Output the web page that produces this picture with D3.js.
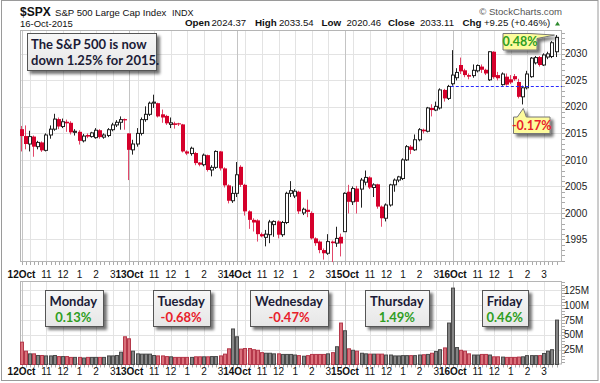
<!DOCTYPE html>
<html><head><meta charset="utf-8">
<script src="https://cdn.jsdelivr.net/npm/d3@7"></script>
<style>body{margin:0;background:#fff}svg{display:block}</style>
</head><body><svg id="c" width="600" height="383"></svg>
<script>
// ---------------- DATA ----------------
const days = ["12Oct","13Oct","14Oct","15Oct","16Oct"];
const barsPerDay = 26;
const hourLabels = [{bar:6,t:"11"},{bar:10,t:"12"},{bar:14,t:"1"},{bar:18,t:"2"},{bar:22,t:"3"}];
const gridBars = [0,2,6,10,14,18,22];
const priceTicks = [1995,2000,2005,2010,2015,2020,2025,2030];
const volTicks = [25,50,75,100,125];
const dayNames = ["Monday","Tuesday","Wednesday","Thursday","Friday"];
const dayChanges = [0.13,-0.68,-0.47,1.49,0.46];
const prevClose = 2023.86;

const openP = [
2015.8,2014.5,2013.0,2014.4,2012.5,2013.3,2011.8,2014.7,2015.8,2017.7,2016.3,2017.2,2017.0,2015.2,2015.3,2013.6,2014.7,2014.4,2014.2,2015.6,2014.3,2014.6,2015.7,2016.6,2017.1,2017.7,
2015.0,2011.9,2013.0,2015.0,2017.6,2018.6,2020.7,2020.7,2018.6,2018.3,2016.7,2016.9,2016.9,2016.7,2011.6,2011.2,2011.3,2009.5,2009.1,2010.9,2008.1,2008.6,2011.6,2008.4,2005.2,2002.3,
2003.7,2008.7,2005.3,2000.3,1998.7,1998.6,1996.0,1995.4,1995.9,1997.8,1998.4,1995.9,1998.2,2003.7,2003.2,2004.0,2000.0,2000.6,2000.0,1995.2,1994.6,1993.0,1992.4,1994.6,1994.3,1995.5,
1996.47,2004.0,2002.1,2004.6,2004.5,2005.8,2006.7,2004.8,2005.4,2001.2,1999.0,2001.5,2005.3,2006.2,2006.5,2010.0,2012.5,2011.9,2013.8,2015.7,2015.4,2019.8,2019.4,2019.8,2023.2,2021.6,
2024.37,2025.5,2027.9,2026.9,2026.0,2025.9,2026.8,2027.6,2027.0,2025.1,2030.4,2026.0,2024.2,2025.7,2025.2,2025.8,2024.7,2021.9,2023.6,2025.7,2028.3,2029.4,2027.9,2029.4,2029.5,2030.4];
const highP = [
2016.4,2016.5,2015.5,2014.6,2013.6,2013.5,2015.0,2016.5,2018.7,2018.0,2017.8,2017.6,2017.3,2015.8,2015.6,2014.9,2015.0,2015.3,2016.0,2015.8,2015.0,2016.0,2017.0,2017.5,2018.2,2017.8,
2015.0,2013.8,2016.0,2018.0,2020.1,2021.0,2022.3,2020.8,2019.5,2018.5,2018.0,2017.2,2017.0,2016.8,2011.8,2012.5,2011.5,2009.6,2011.2,2011.0,2009.0,2011.8,2011.7,2008.6,2005.4,2005.0,
2009.6,2009.0,2005.5,2000.5,1999.0,1998.8,1996.3,1996.8,1998.7,1998.6,1998.6,1998.5,2004.0,2006.0,2004.5,2004.2,2001.0,2002.5,2000.3,1995.4,1994.8,1993.3,1996.0,1994.8,1997.4,1996.1,
2003.9,2005.3,2005.0,2005.1,2006.6,2008.0,2006.9,2005.6,2005.5,2001.4,2001.8,2005.5,2006.5,2007.0,2010.3,2012.8,2012.8,2014.8,2016.0,2015.9,2020.0,2020.5,2021.0,2023.5,2023.4,2024.15,
2030.7,2027.3,2029.3,2027.2,2026.3,2028.0,2028.0,2028.0,2027.2,2030.5,2030.5,2026.6,2026.5,2026.3,2026.0,2026.2,2025.3,2024.0,2026.8,2029.4,2029.6,2029.6,2030.1,2030.4,2032.4,2033.54];
const lowP = [
2011.6,2012.0,2011.6,2010.6,2012.0,2011.5,2011.6,2014.0,2015.5,2015.8,2016.0,2015.3,2014.8,2014.6,2012.9,2013.3,2014.1,2014.2,2014.0,2014.0,2014.0,2014.3,2015.4,2016.2,2015.7,2015.7,
2006.2,2011.0,2012.5,2014.6,2017.2,2018.3,2019.8,2018.0,2017.0,2016.6,2016.0,2015.9,2016.4,2011.4,2010.9,2010.8,2009.0,2008.8,2008.8,2007.8,2006.9,2008.3,2008.0,2004.8,2001.8,2001.9,
2003.0,2004.9,1999.5,1997.0,1996.5,1994.6,1995.4,1993.7,1994.3,1995.5,1995.2,1995.5,1997.9,2003.0,2002.8,1999.8,1999.6,1999.2,1995.0,1993.8,1992.4,1991.2,1992.1,1990.73,1993.6,1991.8,
1996.47,1999.9,2001.5,1999.9,2001.0,2005.2,2004.5,2003.0,2000.8,1997.4,1998.4,2001.2,2004.0,2005.8,2006.2,2009.8,2011.1,2011.7,2013.5,2015.0,2015.2,2018.2,2019.2,2019.5,2021.0,2021.3,
2024.0,2025.0,2026.2,2025.6,2025.2,2025.5,2026.5,2026.4,2026.0,2024.9,2025.3,2025.0,2024.0,2024.0,2024.3,2024.9,2021.6,2020.46,2023.3,2025.5,2028.0,2027.6,2027.7,2029.0,2029.2,2029.4];
const closeP = [
2014.5,2013.0,2014.4,2012.5,2013.3,2011.8,2014.7,2015.8,2017.7,2016.3,2017.2,2016.9,2015.2,2015.4,2013.6,2014.5,2014.4,2015.1,2015.6,2014.3,2014.7,2015.7,2016.6,2017.1,2017.6,2017.46,
2011.9,2013.0,2015.0,2017.6,2018.6,2020.7,2020.9,2018.2,2018.0,2016.9,2017.0,2016.6,2016.7,2011.6,2011.2,2012.2,2009.4,2009.1,2010.9,2008.1,2008.6,2011.6,2008.4,2005.2,2002.3,2003.69,
2007.2,2005.3,2000.3,1998.7,1998.2,1996.0,1995.6,1996.0,1998.3,1998.4,1995.9,1998.2,2003.7,2004.2,2004.1,2000.3,2000.7,2000.2,1995.2,1994.3,1993.0,1992.4,1994.6,1994.3,1995.2,1994.24,
2003.7,2002.1,2004.6,2002.1,2006.2,2006.7,2004.8,2005.3,2001.2,1999.0,2001.5,2005.3,2006.2,2006.8,2010.0,2012.5,2011.9,2013.8,2015.7,2015.4,2019.8,2019.4,2020.1,2023.2,2021.6,2023.86,
2026.0,2026.5,2026.7,2026.0,2025.7,2026.9,2027.8,2027.0,2026.3,2030.4,2025.6,2025.4,2026.2,2024.2,2024.6,2025.2,2021.9,2023.6,2026.2,2029.2,2029.3,2027.9,2029.8,2030.0,2032.1,2033.11];
const volume = [
37.7,22.5,18,18,15.2,15.2,14.5,14.5,15.2,13.4,13.4,13.4,12,12,12,11,12,12,12,12,12,14.5,14.5,15.2,20.8,46.8,
43.4,22.5,18,17.5,17.5,17.5,15.2,14.5,14.5,13.4,13,12,12,12,12,12,13,13,13,13,13.4,13.4,14.5,17.5,26.5,60,
46.8,26,27,27,25,24,20,19,19,18,18,17,17,17,16,15,14,15,17,17,17,17,18,20,30,70,
57,26.5,24,22.5,19,18,17.5,17.5,17.5,17.5,16,16,14.5,14.5,15,15,15,15,16,16.5,17,19,22,25,28,70,
129,28.6,24,22.5,18,16,16,17,17,16,13,13,12.5,12,12,12,12.5,13,15,15,15,15,18.6,22.5,25,75];

// ---------------- LAYOUT ----------------
const svg = d3.select("#c");
const L = 20, R = 562, mTop = 30, mBot = 262, vTop = 281, vBot = 364.5;
const n = openP.length;
const x = d3.scaleLinear().domain([0, n-1]).range([21.5, 556.5]);
const y = d3.scaleLinear().domain([1990.75, 2034.5]).range([mBot, mTop]);
const yv = d3.scaleLinear().domain([0, 141]).range([vBot, vTop]);
const bars = d3.range(n).map(i => ({i, o:openP[i], h:highP[i], l:lowP[i], c:closeP[i], v:volume[i], down: closeP[i] < openP[i]}));
const AX = "'Liberation Sans', Arial, sans-serif";
const CAL = "Lato, 'Open Sans', sans-serif";

const defs = svg.append("defs");
const f = defs.append("filter").attr("id","sh").attr("x","-20%").attr("y","-20%").attr("width","150%").attr("height","160%");
f.append("feGaussianBlur").attr("in","SourceAlpha").attr("stdDeviation",1.4);
f.append("feOffset").attr("dx",2.5).attr("dy",2.5).attr("result","ob");
f.append("feComponentTransfer").append("feFuncA").attr("type","linear").attr("slope",0.55);
const fm = f.append("feMerge"); fm.append("feMergeNode"); fm.append("feMergeNode").attr("in","SourceGraphic");
const gr = defs.append("linearGradient").attr("id","gbox").attr("x1",0).attr("y1",0).attr("x2",0).attr("y2",1);
gr.append("stop").attr("offset","0%").attr("stop-color","#f7f7f7");
gr.append("stop").attr("offset","100%").attr("stop-color","#e6e6e6");

svg.append("rect").attr("x",1.5).attr("y",0.5).attr("width",596.5).attr("height",380).attr("fill","none").attr("stroke","#9a9a9a");

// ---------------- HEADER ----------------
svg.append("text").attr("x",20).attr("y",15.5).attr("font-family",AX).attr("font-weight","bold").attr("font-size",12).attr("fill","#111").text("$SPX");
svg.append("text").attr("x",55).attr("y",15.5).attr("font-family",AX).attr("font-size",9.6).attr("fill","#111").text("S&P 500 Large Cap Index");
svg.append("text").attr("x",172).attr("y",15.5).attr("font-family",AX).attr("font-size",9).attr("fill","#111").text("INDX");
svg.append("text").attr("x",20).attr("y",27).attr("font-family",AX).attr("font-size",9.5).attr("fill","#111").text("16-Oct-2015");
svg.append("text").attr("x",562).attr("y",15).attr("text-anchor","end").attr("font-family",AX).attr("font-size",9.6).attr("fill","#555").text("\u00A9 StockCharts.com");
const hdr = [
  {x:185,t:"Open",b:true},{x:211.5,t:"2024.37"},{x:255,t:"High",b:true},{x:279,t:"2033.54"},
  {x:321.5,t:"Low",b:true},{x:346.5,t:"2020.46"},{x:388,t:"Close",b:true},{x:420,t:"2033.11"},
  {x:462.5,t:"Chg",b:true},{x:484,t:"+9.25 (+0.46%)"}];
svg.append("g").selectAll("text").data(hdr).join("text")
  .attr("x",d=>d.x).attr("y",26).attr("font-family",AX).attr("font-size",d=>d.b?9.8:9.6)
  .attr("font-weight",d=>d.b?"bold":"normal").attr("fill","#111").text(d=>d.t);
svg.append("path").attr("d","M555,25.5 L560,25.5 L557.5,21.5 Z").attr("fill","#2e8b2e");

// ---------------- GRID & FRAMES ----------------
function panelGrid(top, bot, hTicks, scale) {
  const g = svg.append("g");
  g.selectAll("line.h").data(hTicks).join("line")
    .attr("x1",L).attr("x2",R).attr("y1",d=>Math.round(scale(d))+0.5).attr("y2",d=>Math.round(scale(d))+0.5)
    .attr("stroke","#e3e3e3");
  const vs = [];
  days.forEach((d,k)=>gridBars.forEach(b=>vs.push({i:k*barsPerDay+b, major:b===0})));
  g.selectAll("line.v").data(vs).join("line")
    .attr("x1",d=>Math.round(x(d.i))+0.5).attr("x2",d=>Math.round(x(d.i))+0.5).attr("y1",top).attr("y2",bot)
    .attr("stroke",d=>d.major?"#c4c4c4":"#e3e3e3");
  g.selectAll("line.t").data(d3.range(n)).join("line")
    .attr("x1",d=>Math.round(x(d))+0.5).attr("x2",d=>Math.round(x(d))+0.5).attr("y1",bot).attr("y2",bot+3)
    .attr("stroke","#aaa");
  g.append("rect").attr("x",L+0.5).attr("y",top+0.5).attr("width",R-L-1).attr("height",bot-top-1)
    .attr("fill","none").attr("stroke","#b5b5b5");
}
panelGrid(mTop, mBot, priceTicks, y);
panelGrid(vTop, vBot, volTicks, yv);

svg.append("g").selectAll("line").data(d3.range(1991, 2035)).join("line")
  .attr("x1",R).attr("x2",R+3).attr("y1",d=>Math.round(y(d))+0.5).attr("y2",d=>Math.round(y(d))+0.5).attr("stroke","#aaa");
svg.append("g").selectAll("text").data(priceTicks).join("text")
  .attr("x",565).attr("y",d=>y(d)+3.6).attr("font-family",AX).attr("font-size",10).attr("fill","#222").text(d=>d);
svg.append("g").selectAll("line").data(d3.range(5,141,5)).join("line")
  .attr("x1",R).attr("x2",R+3).attr("y1",d=>Math.round(yv(d))+0.5).attr("y2",d=>Math.round(yv(d))+0.5).attr("stroke","#aaa");
svg.append("g").selectAll("text").data(volTicks).join("text")
  .attr("x",564).attr("y",d=>yv(d)+3.6).attr("font-family",AX).attr("font-size",10).attr("fill","#222").text(d=>d+"M");

const xl = [];
days.forEach((d,k)=>{ xl.push({i:k*barsPerDay, t:d, b:true}); hourLabels.forEach(h=>xl.push({i:k*barsPerDay+h.bar, t:h.t, b:false})); });
[277.5, 374.5].forEach(yy=>{
  svg.append("g").selectAll("text").data(xl).join("text")
    .attr("x",d=>x(d.i)).attr("y",yy).attr("text-anchor","middle").attr("font-family",AX)
    .attr("font-size",10).attr("font-weight",d=>d.b?"bold":"normal").attr("fill","#111").text(d=>d.t);
});

// ---------------- CANDLES ----------------
const cg = svg.append("g");
const cx = d => Math.round(x(d.i));
cg.selectAll("line").data(bars).join("line")
  .attr("x1",d=>cx(d)-0.5).attr("x2",d=>cx(d)-0.5).attr("y1",d=>y(d.h)).attr("y2",d=>y(d.l))
  .attr("stroke",d=>d.down?"#e2476a":"#222").attr("stroke-width",1);
cg.selectAll("rect").data(bars).join("rect")
  .attr("x",d=>d.down?cx(d)-2:cx(d)-1.5)
  .attr("width",d=>d.down?4:3)
  .attr("y",d=>y(Math.max(d.o,d.c)))
  .attr("height",d=>Math.max(1, Math.abs(y(d.o)-y(d.c))))
  .attr("fill",d=>d.down?"#d5002b":"#fff")
  .attr("stroke",d=>d.down?"none":"#222").attr("stroke-width",1);

svg.append("line").attr("x1",x(104)-2).attr("x2",R).attr("y1",Math.round(y(prevClose))+0.5).attr("y2",Math.round(y(prevClose))+0.5)
  .attr("stroke","#2a2aff").attr("stroke-width",1).attr("stroke-dasharray","3,2");

// ---------------- VOLUME ----------------
svg.append("g").selectAll("rect").data(bars).join("rect")
  .attr("x",d=>cx(d)-1.5).attr("width",3)
  .attr("y",d=>yv(d.v)).attr("height",d=>yv(0)-yv(d.v))
  .attr("fill",d=>d.down?"#d9707a":"#858585")
  .attr("stroke",d=>d.down?"#b4384a":"#4a4a4a").attr("stroke-width",1);

// ---------------- ANNOTATIONS ----------------
const mb = svg.append("g");
mb.append("rect").attr("x",27.5).attr("y",33.5).attr("width",129).attr("height",37).attr("fill","url(#gbox)").attr("stroke","#555").attr("filter","url(#sh)");
mb.append("text").attr("x",31).attr("y",48.5).attr("font-family",CAL).attr("font-weight","bold").attr("font-size",13).attr("fill","#1b1b36").text("The S&P 500 is now");
mb.append("text").attr("x",31).attr("y",65).attr("font-family",CAL).attr("font-weight","bold").attr("font-size",13).attr("fill","#1b1b36").text("down 1.25% for 2015.");

function callout(bx, by, bw, bh, path, txt, col) {
  const g = svg.append("g");
  g.append("path").attr("d",path).attr("fill","#fdfb9c").attr("stroke","#777").attr("filter","url(#sh)");
  g.append("text").attr("x",bx+bw/2).attr("y",by+bh/2+4.5).attr("text-anchor","middle").attr("font-family",CAL)
    .attr("font-weight","bold").attr("font-size",12.5).attr("fill",col).text(txt);
}
{
  const hx = x(129), hy = y(highP[129]);
  const bx=503, by=33.5, bw=34, bh=16.5;
  callout(bx,by,bw,bh,`M${bx},${by} H${bx+bw-7} L${hx-2},${hy} L${bx+bw},${by+5} V${by+bh} H${bx} Z`,"0.48%","#2f9e1f");
}
{
  const lx = x(121), ly = y(lowP[121]);
  const bx=513.5, by=117, bw=36.5, bh=16.5;
  callout(bx,by,bw,bh,`M${bx},${by} H${lx-6} L${lx},${ly+4} L${lx+3},${by} H${bx+bw} V${by+bh} H${bx} Z`,"-0.17%","#e8202a");
}

days.forEach((d,k)=>{
  const c = x(k*barsPerDay + 12.5);
  const g = svg.append("g");
  const r = g.append("rect").attr("y",290.5).attr("height",36).attr("fill","url(#gbox)").attr("stroke","#555").attr("filter","url(#sh)");
  const t1 = g.append("text").attr("x",c).attr("y",305.5).attr("text-anchor","middle").attr("font-family",CAL)
    .attr("font-weight","bold").attr("font-size",13).attr("fill","#1b1b36").text(dayNames[k]);
  g.append("text").attr("x",c).attr("y",321.5).attr("text-anchor","middle").attr("font-family",CAL)
    .attr("font-weight","bold").attr("font-size",13).attr("fill",dayChanges[k]>=0?"#2f9e1f":"#e8202a")
    .text(dayChanges[k].toFixed(2)+"%");
  const w = t1.node().getComputedTextLength() + 10;
  r.attr("x",Math.round(c - w/2)+0.5).attr("width",Math.round(w));
});
</script></body></html>
